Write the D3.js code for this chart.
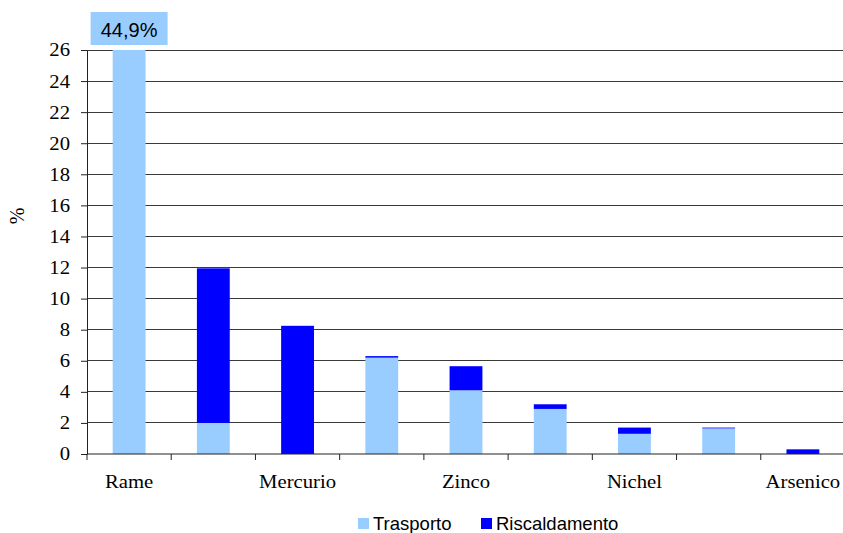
<!DOCTYPE html>
<html>
<head>
<meta charset="utf-8">
<script src="https://cdn.jsdelivr.net/npm/d3@7/dist/d3.min.js"></script>
<style>
  html, body { margin: 0; padding: 0; background: #fff; }
  svg { display: block; }
</style>
</head>
<body>
<svg id="chart" width="843" height="533"></svg>
<script>
// Quota delle emissioni di metalli pesanti (%) per settore
const categories = ["Rame", "Cadmio", "Mercurio", "Cromo", "Zinco", "Piombo", "Nichel", "Selenio", "Arsenico"];
const shownLabels = ["Rame", "Mercurio", "Zinco", "Nichel", "Arsenico"];
const trasporto = [44.9, 2.0, 0, 6.2, 4.1, 2.9, 1.3, 1.65, 0];
const riscaldamento = [0, 9.95, 8.25, 0.1, 1.55, 0.3, 0.4, 0.05, 0.3];
const seriesNames = ["Trasporto", "Riscaldamento"];
const seriesColors = ["#99CCFF", "#0000FF"];
const yTicks = [0, 2, 4, 6, 8, 10, 12, 14, 16, 18, 20, 22, 24, 26];
const calloutText = "44,9%";

const svg = d3.select("#chart");
const plotL = 87, plotR = 845, plotT = 50, plotB = 454;
const serif = "'Liberation Serif', 'Times New Roman', serif";
const sans = "'Liberation Sans', Arial, sans-serif";
const stretch = 1.15;

const x = d3.scaleBand().domain(categories).range([plotL, plotR]).padding(0);
const y = d3.scaleLinear().domain([0, 26]).range([plotB, plotT]);

const rows = categories.map((c, i) => ({ cat: c, Trasporto: trasporto[i], Riscaldamento: riscaldamento[i] }));
const stacked = d3.stack().keys(seriesNames)(rows);

// gridlines
svg.append("g")
  .selectAll("line")
  .data(yTicks.filter(t => t > 0))
  .join("line")
  .attr("x1", plotL).attr("x2", plotR)
  .attr("y1", d => y(d)).attr("y2", d => y(d))
  .attr("stroke", "#3a3a3a").attr("stroke-width", 1)
  .attr("shape-rendering", "crispEdges");

// bars, clipped to the plot area
svg.append("clipPath").attr("id", "plotClip")
  .append("rect").attr("x", plotL).attr("y", plotT).attr("width", plotR - plotL).attr("height", plotB - plotT);

const barW = x.bandwidth() * 0.39;
const barOff = (x.bandwidth() - barW) / 2;
const bars = svg.append("g").attr("clip-path", "url(#plotClip)");
stacked.forEach((layer, li) => {
  bars.append("g")
    .attr("fill", seriesColors[li])
    .selectAll("rect")
    .data(layer)
    .join("rect")
    .attr("x", d => x(d.data.cat) + barOff)
    .attr("width", barW)
    .attr("y", d => y(d[1]))
    .attr("height", d => Math.max(0, y(d[0]) - y(d[1])));
});

// y axis
const yAxis = svg.append("g")
  .attr("transform", `translate(${plotL},0)`)
  .call(d3.axisLeft(y).tickValues(yTicks).tickSize(6).tickSizeOuter(0).tickFormat(d3.format("d")));
yAxis.select(".domain").attr("stroke", "#222");
yAxis.selectAll(".tick line").attr("stroke", "#222");
yAxis.selectAll(".tick text")
  .attr("font-family", serif).attr("font-size", 18).attr("fill", "#000")
  .attr("x", -17 / stretch).attr("dy", "0.33em")
  .attr("transform", `scale(${stretch},1)`);

// x axis: ticks on the category boundaries
const xAxis = svg.append("g").attr("transform", `translate(0,${plotB})`);
xAxis.append("line").attr("x1", plotL).attr("x2", plotR).attr("y1", 0).attr("y2", 0).attr("stroke", "#222");
xAxis.selectAll("line.tk")
  .data(categories)
  .join("line").attr("class", "tk")
  .attr("x1", d => x(d)).attr("x2", d => x(d))
  .attr("y1", 0).attr("y2", 6).attr("stroke", "#222");
xAxis.selectAll("text")
  .data(categories.filter(c => shownLabels.includes(c)))
  .join("text")
  .attr("transform", d => `translate(${x(d) + x.bandwidth() / 2},34) scale(${stretch},1)`)
  .attr("text-anchor", "middle")
  .attr("font-family", serif).attr("font-size", 18).attr("fill", "#000")
  .text(d => d);

// y axis title
svg.append("text")
  .attr("transform", "translate(24,216) rotate(-90)")
  .attr("text-anchor", "middle")
  .attr("font-family", serif).attr("font-size", 20).attr("fill", "#000")
  .text("%");

// callout for the bar that exceeds the axis
const cx = x("Rame") + x.bandwidth() / 2;
const call = svg.append("g");
call.append("rect")
  .attr("x", cx - 38.5).attr("y", 12).attr("width", 77).attr("height", 33)
  .attr("fill", seriesColors[0]);
call.append("text")
  .attr("x", cx).attr("y", 37)
  .attr("text-anchor", "middle")
  .attr("font-family", sans).attr("font-size", 20).attr("fill", "#000")
  .text(calloutText);

// legend
const legendX = [358, 481];
const legend = svg.append("g");
seriesNames.forEach((name, i) => {
  legend.append("rect")
    .attr("x", legendX[i]).attr("y", 518).attr("width", 11).attr("height", 11)
    .attr("fill", seriesColors[i]);
  legend.append("text")
    .attr("x", legendX[i] + 15).attr("y", 529.5)
    .attr("font-family", sans).attr("font-size", 18.5).attr("fill", "#000")
    .text(name);
});
</script>
</body>
</html>
